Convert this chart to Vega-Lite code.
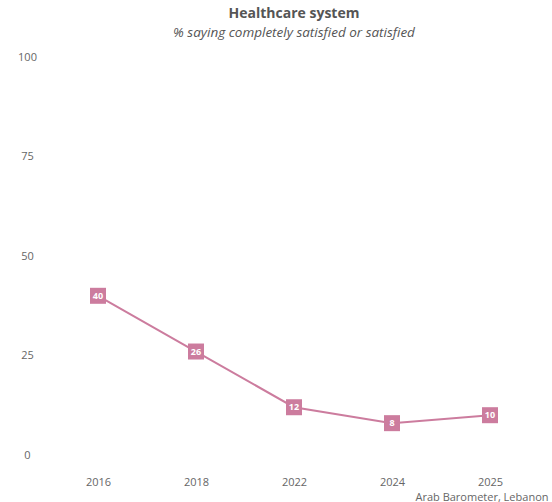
{
  "$schema": "https://vega.github.io/schema/vega-lite/v6.json",
  "width": 490,
  "height": 398,
  "autosize": {"type": "none"},
  "padding": {"left": 49, "top": 57, "right": 13, "bottom": 47},
  "background": "white",
  "config": {
    "view": {"stroke": null},
    "font": "Open Sans"
  },
  "title": {
    "text": "Healthcare system",
    "subtitle": "% saying completely satisfied or satisfied",
    "anchor": "middle",
    "font": "Open Sans",
    "fontSize": 14,
    "fontWeight": "bold",
    "color": "#555555",
    "subtitleFont": "Open Sans",
    "subtitleFontSize": 13.5,
    "subtitleFontStyle": "italic",
    "subtitleColor": "#555555",
    "subtitlePadding": 5,
    "offset": 12
  },
  "data": {
    "values": [
      {"year": "2016", "value": 40},
      {"year": "2018", "value": 26},
      {"year": "2022", "value": 12},
      {"year": "2024", "value": 8},
      {"year": "2025", "value": 10}
    ]
  },
  "encoding": {
    "x": {
      "field": "year",
      "type": "ordinal",
      "scale": {"type": "point", "padding": 0.5},
      "axis": {
        "title": "Arab Barometer, Lebanon",
        "titleFont": "Open Sans",
        "titleFontSize": 11,
        "titleFontWeight": "normal",
        "titleColor": "#666666",
        "titleAlign": "right",
        "titleX": 499,
        "titleY": 47,
        "titleBaseline": "bottom",
        "labelAngle": 0,
        "labelFontSize": 11,
        "labelColor": "#666666",
        "labelPadding": 21,
        "ticks": false,
        "tickSize": 0,
        "domain": false,
        "grid": false
      }
    },
    "y": {
      "field": "value",
      "type": "quantitative",
      "scale": {"domain": [0, 100]},
      "axis": {
        "title": null,
        "values": [0, 25, 50, 75, 100],
        "labelFontSize": 11,
        "labelColor": "#666666",
        "labelAlign": "center",
        "labelPadding": 22,
        "ticks": false,
        "tickSize": 0,
        "domain": false,
        "grid": false
      }
    }
  },
  "layer": [
    {
      "mark": {"type": "line", "color": "#cc7c9e", "strokeWidth": 2}
    },
    {
      "mark": {"type": "point", "shape": "square", "filled": true, "size": 256, "color": "#cc7c9e", "opacity": 1}
    },
    {
      "mark": {"type": "text", "color": "white", "fontSize": 9, "fontWeight": "bold", "font": "Open Sans"},
      "encoding": {"text": {"field": "value", "type": "quantitative"}}
    }
  ]
}
